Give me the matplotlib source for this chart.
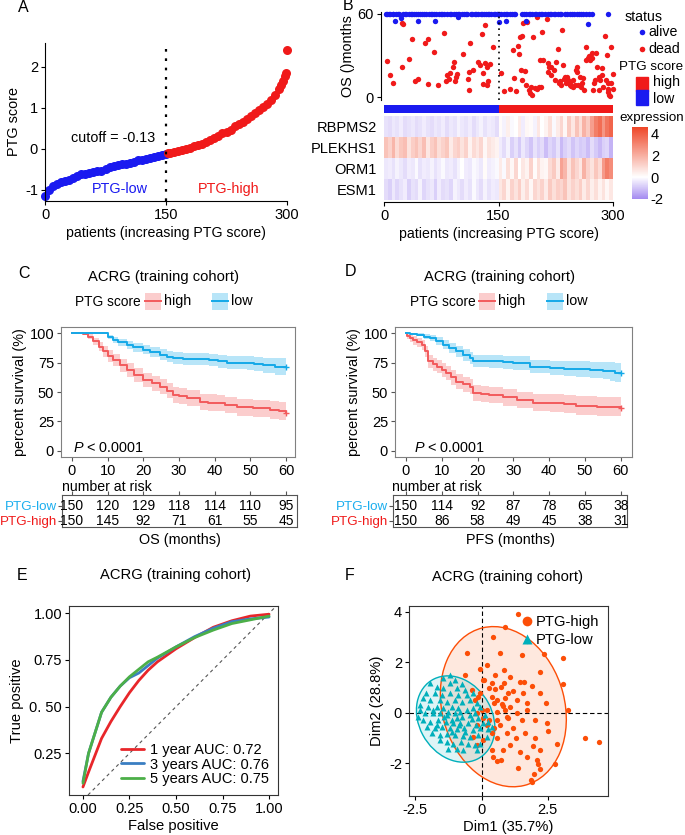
import numpy as np
import matplotlib
matplotlib.use('Agg')
import matplotlib.pyplot as plt
from matplotlib.patches import Ellipse, Rectangle
from matplotlib.lines import Line2D
from matplotlib.colors import LinearSegmentedColormap, ListedColormap, Normalize

plt.rcParams['font.family'] = ['Liberation Sans', 'DejaVu Sans']
plt.rcParams['font.size'] = 10
plt.rcParams['xtick.labelsize'] = 10.5
plt.rcParams['ytick.labelsize'] = 10.5
plt.rcParams['axes.unicode_minus'] = False
plt.rcParams['mathtext.fontset'] = 'custom'
plt.rcParams['mathtext.it'] = 'Liberation Sans:italic'
plt.rcParams['mathtext.rm'] = 'Liberation Sans'

# ---------------- data ----------------
# A: sorted PTG score
low_patient = [0, 5, 10, 15, 20, 25, 30, 35, 40, 45, 50, 55, 60, 65, 70, 75, 80, 85, 90, 95,
               100, 105, 110, 115, 120, 125, 130, 135, 140, 145, 150]
low_score = [-1.15, -1.0, -0.9, -0.85, -0.8, -0.78, -0.75, -0.7, -0.67, -0.62, -0.6, -0.58,
             -0.57, -0.55, -0.53, -0.5, -0.45, -0.42, -0.4, -0.38, -0.37, -0.35, -0.32,
             -0.28, -0.27, -0.25, -0.22, -0.2, -0.18, -0.16, -0.13]
high_patient = [152, 155, 160, 165, 170, 175, 180, 185, 190, 195, 200, 205, 210, 215, 220, 225,
                230, 235, 240, 245, 250, 255, 260, 265, 270, 275, 280, 285, 290, 293, 295,
                297, 299, 300]
high_score = [-0.1, -0.1, -0.08, -0.06, -0.03, 0.0, 0.03, 0.06, 0.1, 0.13, 0.17, 0.22, 0.27,
              0.32, 0.38, 0.42, 0.47, 0.55, 0.6, 0.65, 0.72, 0.8, 0.87, 0.95, 1.02, 1.1, 1.2,
              1.32, 1.45, 1.55, 1.65, 1.78, 1.85, 2.42]
cutoff = -0.13

# B: survival status (patient rank, OS months)
alive_patient = [1, 2, 5, 7, 10, 11, 14, 17, 19, 23, 26, 28, 31, 34, 35, 38, 41, 44, 46, 49,
                 51, 54, 58, 60, 62, 65, 67, 71, 73, 75, 78, 82, 85, 87, 91, 94, 96, 98, 101,
                 104, 106, 108, 113, 115, 118, 120, 123, 126, 127, 130, 133, 136, 137, 140,
                 143, 145, 147, 149, 150, 153, 156, 159, 161, 165, 167, 170, 171, 180, 183,
                 186, 189, 191, 194, 197, 199, 202, 205, 207, 210, 214, 217, 219, 222, 224,
                 227, 230, 232, 237, 240, 243, 246, 249, 252, 255, 258, 261, 264, 268, 272, 293]
followup_end = 60
alive_early = [(13, 55), (21, 57.3), (44, 55), (66, 55), (96, 57.5), (150, 54), (159, 55),
               (185, 55), (267, 52.8)]
dead = [(2, 26.4), (6, 15.8), (10, 10.1), (22, 53.3), (24, 52.8), (22, 22.1), (31, 27.8),
        (36, 41.8), (40, 12.0), (43, 13.0), (53, 39.4), (56, 41.8), (56, 9.6), (64, 32.9),
        (70, 8.9), (77, 46.6), (80, 12.0), (81, 16.1), (84, 13.0), (86, 17.3), (90, 22.1),
        (91, 25.7), (93, 14.9), (92, 12.0), (95, 16.8), (102, 31.2), (109, 13.4), (110, 5.3),
        (111, 18.5), (112, 39.4), (116, 19.7), (122, 25.4), (125, 23.3), (128, 45.6),
        (129, 17.8), (132, 51.8), (132, 24.5), (134, 22.1), (135, 12.0), (129, 9.6),
        (134, 8.9), (138, 24.0), (142, 36.5),
        (152, 17.8), (156, 4.8), (164, 5.8), (168, 34.1), (170, 13.7), (172, 4.8), (175, 37.0),
        (176, 31.2), (178, 43.2), (179, 19.7), (180, 12.5), (180, 44.2), (181, 53.3),
        (184, 19.2), (186, 8.9), (187, 54.5), (189, 5.3), (191, 2.9), (192, 7.7), (193, 1.7),
        (195, 43.2), (197, 6.5), (200, 57.6), (200, 5.8), (202, 7.2), (204, 26.9), (205, 7.7),
        (206, 47.3), (208, 26.9), (213, 56.2), (214, 24.5), (215, 18.5), (216, 21.6),
        (218, 22.1), (219, 16.1), (222, 19.7), (224, 12.5), (225, 25.7), (227, 34.6),
        (229, 10.1), (230, 12.0), (233, 48.5), (231, 8.9), (234, 23.3), (236, 13.0),
        (237, 14.9), (238, 10.1), (239, 14.9), (241, 12.5), (243, 8.9), (243, 11.3),
        (245, 8.2), (247, 12.5), (248, 7.2), (250, 8.9), (251, 19.7), (252, 22.1),
        (253, 18.5), (254, 8.9), (256, 14.4), (258, 7.7), (259, 10.6), (260, 13.7),
        (262, 5.3), (264, 36.5), (265, 26.9), (267, 28.1), (269, 29.8), (270, 26.9),
        (272, 31.7), (273, 28.1), (274, 5.3), (275, 10.1), (276, 12.5), (278, 31.7),
        (279, 22.1), (281, 5.3), (282, 14.4), (283, 12.5), (285, 20.9), (286, 16.1),
        (287, 7.7), (290, 44.2), (291, 12.5), (292, 30.5), (293, 5.8), (294, 4.1), (295, 1.7),
        (297, 36.0), (298, 10.1), (300, 16.8), (300, 5.8), (294, 10.6), (296, 1.0)]
n_low, n_high = 150, 150

genes = ['RBPMS2', 'PLEKHS1', 'ORM1', 'ESM1']
RBPMS2 = [-0.5, -0.6, -0.4, -0.5, -0.3, -0.6, -0.5, -0.4, -0.6, -0.5,
          -0.3, -0.5, -0.6, -0.4, -0.5, -0.3, -0.6, -0.4, -0.5, -0.2,
          -0.4, -0.5, -0.3, -0.6, -0.4, -0.2, -0.5, -0.3, -0.4, -0.6,
          0.1, -0.2, 0.4, -0.1, 0.0, 0.5, -0.3, 0.2, 0.1, -0.2,
          0.6, 0.0, 0.3, 0.8, -0.1, 0.5, 1.0, 0.2, 1.3, 0.6,
          1.5, 0.8, 1.9, 1.3, 2.4, 3.2, 3.6, 2.6, 3.4, 3.8]
PLEKHS1 = [1.5, 1.1, 1.8, 0.9, 1.4, 1.6, 0.7, 1.2, 1.5, 1.0,
           1.6, 0.6, 1.2, 1.5, 0.8, 1.1, 1.4, 0.5, 1.0, 1.2,
           0.7, 1.1, 0.3, 0.9, 0.6, 1.0, 0.2, 0.7, 0.5, 0.3,
           -0.3, -0.6, -0.2, -0.8, -0.5, -0.9, -0.4, -0.7, -1.0, -0.5,
           -0.8, -0.6, -1.1, -0.7, -0.9, -0.5, -1.2, -0.8, -0.6, -1.0,
           -0.7, -0.9, -0.8, -1.1, -0.6, -0.9, -1.2, -0.8, -0.7, -1.3]
ORM1 = [-0.4, -0.3, -0.5, -0.2, -0.4, -0.6, -0.3, -0.4, -0.1, -0.5,
        -0.3, -0.4, -0.2, -0.5, -0.3, -0.1, -0.4, -0.3, -0.5, -0.2,
        0.0, -0.3, -0.4, -0.1, -0.2, -0.4, 0.1, -0.3, -0.2, -0.1,
        0.5, -0.1, 0.8, 0.2, 1.0, 0.0, 0.6, 0.3, 1.1, 0.1,
        0.8, 0.3, 0.2, 0.9, 1.3, 0.5, 2.3, 1.8, 0.7, 1.5,
        1.0, 0.6, 1.9, 1.1, 0.7, 1.4, 0.9, 2.5, 3.2, 2.8]
ESM1 = [-0.6, -0.8, -0.4, -0.7, -0.5, -0.3, -0.8, -0.5, -0.6, -0.2,
        -0.7, -0.5, -0.4, -0.8, -0.3, -0.6, -0.5, -0.7, -0.2, -0.4,
        -0.6, -0.3, -0.5, -0.1, -0.4, -0.6, -0.2, -0.5, -0.3, -0.4,
        0.6, 1.0, 0.3, 1.1, 0.7, 1.2, 0.4, 0.9, 0.2, 1.0,
        0.7, 1.1, 0.5, 1.3, 0.8, 1.2, 1.0, 1.5, 0.7, 1.1,
        0.8, 1.2, 0.5, 1.0, 0.4, 0.8, 0.3, 0.7, 0.2, 0.6]

# C: OS Kaplan-Meier (month, survival %, half width of CI)
os_months_low = [0, 8.8, 10, 11.6, 13, 15.3, 17, 20, 22, 24.7, 26.5, 28.4, 31, 34, 38.3, 41,
                 43.4, 46, 49, 51, 53.6, 57, 60]
os_surv_low = [100, 100, 96.5, 94.3, 92, 90, 88, 85.8, 84, 81.6, 80, 78.7, 78.2, 77.9, 77.3,
               76, 75, 74.8, 74.4, 73.5, 72.5, 71.6, 71.6]
os_ci_low = [0, 0, 1.5, 2.5, 3, 3.5, 3.8, 4, 4.3, 4.6, 4.8, 5, 5, 5.1, 5.2, 5.3, 5.5, 5.7,
             5.9, 6.1, 6.4, 6.8, 7]
os_months_high = [0, 3.2, 4.5, 6, 7.5, 8.8, 10, 11.6, 13.5, 15.3, 17.5, 20, 22.5, 24.7, 26.5,
                  28.4, 30, 32.2, 35.9, 38, 40.6, 43, 46.2, 50.8, 55.5, 58, 60]
os_surv_high = [100, 99.4, 97, 92.9, 88.5, 84.4, 80.5, 77.3, 72.5, 68.8, 64.5, 60.3, 57.5,
                54.6, 51, 47.5, 46.5, 44.7, 41.9, 41, 40.5, 39, 37.1, 36.2, 34.8, 33.8, 32.5]
os_ci_high = [0, 1, 2, 3, 4, 4.5, 5, 5.3, 5.6, 5.8, 6, 6.2, 6.3, 6.4, 6.5, 6.6, 6.6, 6.7,
              6.8, 6.9, 7, 7, 7.1, 7.2, 7.3, 7.4, 7.5]

# D: PFS Kaplan-Meier
pfs_months_low = [0, 1, 3, 5, 6.7, 8.5, 10.4, 12, 14.1, 16, 17.9, 18.6, 23.3, 27, 30, 34.6,
                  40.2, 44, 47.6, 51.4, 55, 57, 58.4, 60]
pfs_surv_low = [100, 99.3, 98.6, 97, 95.7, 93, 90, 87, 84.4, 81.5, 78.7, 76.4, 75.9, 75.2,
                74.5, 71.6, 70.2, 69.8, 69.4, 68.8, 68.2, 67.4, 66.5, 66.5]
pfs_ci_low = [0, 0.8, 1.5, 2.2, 2.8, 3.3, 3.8, 4.2, 4.6, 4.9, 5.1, 5.2, 5.3, 5.4, 5.6, 5.8,
              6.1, 6.4, 6.7, 7, 7.4, 7.8, 8.2, 8.5]
pfs_months_high = [0, 0.2, 1, 2, 3.2, 4.4, 5.3, 6.2, 7.4, 8.6, 10, 11.3, 12.7, 14.1, 16, 17.9,
                   18.6, 21, 23.3, 27, 30.9, 35.5, 40.2, 44, 47.6, 53.2, 60]
pfs_surv_high = [100, 97.1, 95.5, 93.7, 92, 90, 84.4, 75.9, 73.5, 71.6, 68.5, 66, 62.5, 58.9,
                 56.5, 54.6, 49, 48.2, 47.5, 45.5, 43.3, 41, 40.5, 39.5, 38.3, 37.6, 36.2]
pfs_ci_high = [0, 2, 2.8, 3.5, 4, 4.5, 5, 5.5, 5.7, 5.9, 6, 6.2, 6.3, 6.4, 6.5, 6.6, 6.7,
               6.8, 6.9, 7, 7.1, 7.3, 7.5, 7.7, 7.9, 8.2, 8.5]

risk_times = [0, 10, 20, 30, 40, 50, 60]
os_risk_low = [150, 120, 129, 118, 114, 110, 95]
os_risk_high = [150, 145, 92, 71, 61, 55, 45]
pfs_risk_low = [150, 114, 92, 87, 78, 65, 38]
pfs_risk_high = [150, 86, 58, 49, 45, 38, 31]

# E: time-dependent ROC
fpr = [0, 0.03, 0.1, 0.15, 0.2, 0.25, 0.3, 0.35, 0.4, 0.5, 0.6, 0.7, 0.8, 0.9, 1.0]
tpr_1y = [0.07, 0.15, 0.33, 0.42, 0.5, 0.575, 0.64, 0.695, 0.74, 0.81, 0.87, 0.925, 0.96,
          0.985, 0.995]
tpr_3y = [0.1, 0.25, 0.47, 0.55, 0.61, 0.655, 0.68, 0.72, 0.76, 0.82, 0.875, 0.92, 0.955,
          0.97, 0.98]
tpr_5y = [0.09, 0.25, 0.47, 0.55, 0.61, 0.66, 0.70, 0.74, 0.765, 0.82, 0.87, 0.91, 0.945,
          0.965, 0.985]
roc_labels = ['1 year AUC: 0.72', '3 years AUC: 0.76', '5 years AUC: 0.75']

# F: PCA individuals (Dim1, Dim2)
pca_high = [(1.38, 3.92), (0.88, 3.41), (0.44, 2.99), (-0.54, 2.38), (0.69, 2.38), (1.70, 2.86),
            (2.35, 2.33), (3.06, 2.16), (1.51, 2.29), (0.19, 1.89), (-0.06, 1.72), (0.84, 1.69),
            (0.50, 1.50), (1.07, 1.43), (0.06, 1.30), (0.38, 1.16), (0.84, 1.19), (1.45, 1.23),
            (1.60, 1.20), (2.20, 1.63), (-0.63, 1.50), (-0.25, 0.50), (0.28, 0.97), (0.50, 0.93),
            (0.75, 1.01), (-0.06, 0.77), (0.38, 0.64), (0.57, 0.50), (0.98, 0.77), (1.19, 0.87),
            (1.55, 0.77), (1.92, 1.06), (2.43, 0.40), (3.06, 1.14), (3.25, 0.11), (0.47, 0.40),
            (0.79, 0.26), (0.88, 0.11), (0.77, 0.34), (0.19, 0.11), (-0.19, -0.03),
            (0.06, -0.19), (0.28, -0.29), (0.57, -0.29), (0.94, -0.16), (1.32, -0.03),
            (1.70, 0.11), (1.19, -0.62), (0.57, -1.02), (0.94, -0.82), (1.30, -1.02),
            (1.64, -0.82), (2.01, -1.02), (2.52, -0.71), (1.95, -1.31), (-0.19, -1.28),
            (0.38, -1.48), (0.42, -1.77), (0.57, -1.91), (0.75, -1.88), (1.38, -2.21),
            (1.70, -1.75), (2.08, -1.88), (2.14, -2.05), (2.20, -2.22), (1.97, -2.41),
            (1.85, -2.65), (1.92, -2.74), (2.77, -2.05), (3.90, -0.99), (4.43, -1.15),
            (2.83, -1.22), (0.19, -0.49), (0.69, -0.49), (1.01, -0.22), (-0.31, -0.95),
            (0.06, -1.08), (0.38, -0.82), (-0.38, 0.90), (-0.13, 0.64), (0.10, 1.30),
            (0.88, 0.57), (1.32, 0.50), (1.70, 0.37), (2.20, 0.77), (0.47, -0.62),
            (1.07, -1.28), (1.45, -1.55), (0.82, -1.48), (2.20, -1.48), (1.51, -0.29),
            (2.01, -0.29), (2.45, -0.42), (-0.19, -0.49), (0.0, 0.11), (1.07, 0.24),
            (0.57, 0.04)]
pca_low = [(-1.19, 1.49), (-1.45, 1.36), (-1.01, 1.30), (-1.19, 1.16), (-1.95, 1.16),
           (-1.70, 1.03), (-1.45, 0.97), (-0.94, 0.97), (-0.75, 1.14), (-0.63, 0.90),
           (-2.08, 0.77), (-1.76, 0.77), (-1.51, 0.70), (-1.19, 0.77), (-0.88, 0.70),
           (-0.57, 0.70), (-0.31, 0.77), (-2.20, 0.57), (-1.95, 0.50), (-1.57, 0.50),
           (-1.32, 0.44), (-1.01, 0.50), (-0.75, 0.44), (-0.44, 0.50), (-0.19, 0.40),
           (-2.33, 0.30), (-2.01, 0.24), (-1.70, 0.24), (-1.45, 0.17), (-1.13, 0.24),
           (-0.88, 0.17), (-0.57, 0.11), (-0.31, 0.17), (-0.06, 0.24), (-2.39, -0.16),
           (-2.14, -0.03), (-1.85, -0.03), (-1.57, -0.03), (-1.32, -0.09), (-1.01, -0.03),
           (-0.75, -0.16), (-0.44, -0.09), (-0.13, -0.19), (0.13, -0.09), (-2.20, -0.29),
           (-1.95, -0.36), (-1.64, -0.29), (-1.35, -0.36), (-1.07, -0.40), (-0.82, -0.42),
           (-0.50, -0.40), (-0.21, -0.49), (0.06, -0.42), (-2.05, -0.56), (-1.76, -0.62),
           (-1.51, -0.56), (-1.19, -0.62), (-0.94, -0.66), (-0.67, -0.62), (-0.34, -0.69),
           (-0.06, -0.62), (0.25, -0.66), (-1.89, -0.82), (-1.57, -0.89), (-1.30, -0.85),
           (-1.01, -0.89), (-0.72, -0.93), (-0.42, -0.95), (-0.13, -0.89), (0.19, -0.95),
           (-1.32, -1.15), (-1.07, -1.22), (-0.79, -1.15), (-0.50, -1.22), (-0.25, -1.28),
           (-0.94, -1.42), (-1.26, -1.42), (-0.69, -1.48), (-0.19, -1.48), (-1.57, -1.08),
           (-0.06, -1.22), (0.38, -0.56), (0.25, -0.36), (-1.13, -0.29), (-0.94, -0.22),
           (-1.42, -0.16), (-1.70, -0.49), (-0.63, -0.75), (-0.86, -0.49), (-1.11, -0.78),
           (-0.38, -0.26), (-1.82, 0.11), (-1.26, 0.04), (-0.82, 0.04), (-2.33, 0.11),
           (-0.25, -0.03)]
# concentration ellipses: centre, width, height, angle
high_ellipse = ((0.82, 0.24), 6.44, 4.63, 104)
low_ellipse = ((-0.98, -0.25), 3.57, 2.78, 117)

# ---------------- styles ----------------
BLUE = '#1A1AF0'
RED = '#F01A1A'
KM_RED = '#F25A5C'
KM_BLUE = '#14A9E8'
TXT_BLUE = '#1BAEEE'
ORANGE = '#FC4E07'
TEAL = '#00AFBB'
TITLE_SIZE = 10.6

W, H = 685, 835
fig = plt.figure(figsize=(W / 100, H / 100), dpi=100)


def box(l, t, r, b):
    return [l / W, 1 - b / H, (r - l) / W, (b - t) / H]


def ftext(x, y, s, **kw):
    kw.setdefault('va', 'center')
    fig.text(x / W, 1 - y / H, s, **kw)


def open_axes(ax):
    ax.spines['top'].set_visible(False)
    ax.spines['right'].set_visible(False)
    ax.tick_params(length=3, width=0.8, pad=2)


# ---------------- A ----------------
axA = fig.add_axes(box(45, 43, 287, 201))
axA.plot(low_patient, low_score, 'o', color=BLUE, ms=6.5, mec='none', clip_on=False)
axA.plot(high_patient, high_score, 'o', color=RED, ms=6.5, mec='none', clip_on=False)
axA.axvline(150, color='black', lw=1.6, ls=(0, (1.2, 3)))
axA.set_xlim(0, 300)
axA.set_ylim(-1.27, 2.58)
axA.set_xticks([0, 150, 300])
axA.set_yticks([-1, 0, 1, 2])
open_axes(axA)
axA.set_ylabel('PTG score', labelpad=3, fontsize=10.4)
axA.set_xlabel('patients (increasing PTG score)', labelpad=3, fontsize=10.2)
axA.text(137, 0.27, 'cutoff = %.2f' % cutoff, ha='right', va='center', fontsize=10.4)
axA.text(93, -0.98, 'PTG-low', color=BLUE, ha='center', va='center', fontsize=10.4)
axA.text(228, -0.98, 'PTG-high', color=RED, ha='center', va='center', fontsize=10.4)
ftext(23, 8, 'A', fontsize=11.5, ha='center')

# ---------------- B ----------------
dead_pat, dead_os = np.array(dead).T
early_pat, early_os = np.array(alive_early).T
axS = fig.add_axes(box(381, 12, 613, 99.5))
axS.scatter(dead_pat, dead_os, s=15, color=RED, lw=0, clip_on=False)
axS.scatter(alive_patient, np.full(len(alive_patient), followup_end), s=15, color=BLUE, lw=0,
            clip_on=False)
axS.scatter(early_pat, early_os, s=15, color=BLUE, lw=0)
axS.axvline(150, color='black', lw=1.2, ls=(0, (1, 2.5)))
axS.set_xlim(-5.3, 300)
axS.set_ylim(-1.6, 61.4)
axS.set_xticks([])
axS.set_yticks([0, 60])
for s in ('top', 'right', 'bottom'):
    axS.spines[s].set_visible(False)
axS.tick_params(length=3, width=0.8, pad=2)
axS.set_ylabel('OS ()months', labelpad=2, fontsize=10.4)
ftext(348, 6, 'B', fontsize=11.5, ha='center')

axG = fig.add_axes(box(384, 105, 613, 113.3))
group_code = np.array([0] * n_low + [1] * n_high)[None, :]
axG.pcolormesh(np.arange(n_low + n_high + 1), [0, 1], group_code,
               cmap=ListedColormap([BLUE, RED]))
axG.set_axis_off()

expr_cmap = LinearSegmentedColormap.from_list(
    'expr', [(0, '#A48AF0'), (2 / 6.6, '#FFFFFF'), (1, '#EE4526')])
expr_norm = Normalize(-2.0, 4.6)
axH = fig.add_axes(box(384, 116, 613, 200))
expr = np.array([RBPMS2, PLEKHS1, ORM1, ESM1])
col_edges = np.linspace(0, 300, expr.shape[1] + 1)
mesh = axH.pcolormesh(col_edges, np.arange(len(genes) + 1), expr, cmap=expr_cmap,
                      norm=expr_norm)
axH.set_xlim(0, 300)
axH.set_ylim(len(genes), 0)
axH.set_yticks(np.arange(len(genes)) + 0.5)
axH.set_yticklabels(genes)
axH.set_xticks([0, 150, 300])
for s in ('top', 'right', 'left'):
    axH.spines[s].set_visible(False)
axH.spines['bottom'].set_position(('outward', 1.5))
axH.tick_params(axis='y', length=0, pad=5)
axH.tick_params(axis='x', length=3, width=0.8, pad=2)
axH.set_xlabel('patients (increasing PTG score)', labelpad=3, fontsize=10.2)

# legends of B
ftext(625, 17, 'status', fontsize=10.2)
fig.add_artist(Line2D([641.7 / W], [1 - 32 / H], marker='o', ms=4, color=BLUE, mec='none',
                      transform=fig.transFigure))
fig.add_artist(Line2D([641.7 / W], [1 - 49 / H], marker='o', ms=4, color=RED, mec='none',
                      transform=fig.transFigure))
ftext(648, 32, 'alive', fontsize=10.2)
ftext(648, 49, 'dead', fontsize=10.2)
ftext(619, 67, 'PTG score', fontsize=9.6)
fig.add_artist(Rectangle((636 / W, 1 - 90.5 / H), 12 / W, 14 / H, color=RED,
                         transform=fig.transFigure))
fig.add_artist(Rectangle((636 / W, 1 - 105 / H), 12 / W, 14.5 / H, color=BLUE,
                         transform=fig.transFigure))
ftext(653, 82, 'high', fontsize=10.2)
ftext(653, 99, 'low', fontsize=10.2)
ftext(619, 118, 'expression', fontsize=9.6)
cax = fig.add_axes(box(632, 126.7, 648, 199))
cb = fig.colorbar(mesh, cax=cax, ticks=[-2, 0, 2, 4])
cb.outline.set_visible(False)
cax.tick_params(length=0, pad=2)

# ---------------- C / D ----------------


def km_panel(rect, tab_rect, xlim, tab_xlim, p_x, low, high, risk_low, risk_high, xlabel):
    ax = fig.add_axes(box(*rect))
    for months, surv, ci, col in (high + (KM_RED,), low + (KM_BLUE,)):
        m = np.asarray(months, float)
        s = np.asarray(surv, float)
        c = np.asarray(ci, float)
        ax.fill_between(m, np.clip(s - c, 0, 100), np.clip(s + c, 0, 100), step='post',
                        color=col, alpha=0.3, lw=0)
        ax.step(m, s, where='post', color=col, lw=1.4)
        ax.plot(m[-1], s[-1], '+', color=col, ms=4, mew=1)
    ax.set_xlim(*xlim)
    ax.set_ylim(-5.1, 105.1)
    ax.set_xticks(risk_times)
    ax.set_yticks([0, 25, 50, 75, 100])
    for s in ax.spines.values():
        s.set_color('#808080')
        s.set_linewidth(0.8)
    ax.tick_params(length=3, width=0.8, color='#555555', pad=2)
    ax.set_ylabel('percent survival (%)', labelpad=2, fontsize=10.4)
    ax.text(p_x, 2.5, '$P$ < 0.0001', ha='left', va='center', fontsize=10.4)

    tab = fig.add_axes(box(*tab_rect))
    tab.set_xlim(*tab_xlim)
    tab.set_ylim(1, 0)
    for t, nl, nh in zip(risk_times, risk_low, risk_high):
        tab.text(t, 0.34, str(nl), ha='center', va='center', fontsize=10)
        tab.text(t, 0.81, str(nh), ha='center', va='center', fontsize=10)
    tab.xaxis.tick_top()
    tab.set_xticks(risk_times)
    tab.set_xticklabels([])
    tab.set_yticks([0.34, 0.81])
    tab.set_yticklabels(['PTG-low', 'PTG-high'], fontsize=9.6)
    for lab, col in zip(tab.get_yticklabels(), (TXT_BLUE, RED)):
        lab.set_color(col)
    for s in tab.spines.values():
        s.set_color('#555555')
        s.set_linewidth(0.8)
    tab.tick_params(length=3, width=0.8, color='#555555', pad=0.5)
    tab.set_xlabel(xlabel, labelpad=4, fontsize=10.4)
    return ax, tab


def km_key(x, y, col, label):
    fig.add_artist(Rectangle((x / W, 1 - (y + 8.5) / H), 16 / W, 17 / H, color=col, alpha=0.3,
                             lw=0, transform=fig.transFigure))
    fig.add_artist(Line2D([x / W, (x + 16) / W], [1 - y / H, 1 - y / H], color=col, lw=1.4,
                          transform=fig.transFigure))
    ftext(x + 19, y, label, fontsize=10.4)


km_panel((61, 327, 295, 457), (62, 495, 297, 527), (-3.08, 62.5), (-2.8, 63.1), 0.2,
         (os_months_low, os_surv_low, os_ci_low), (os_months_high, os_surv_high, os_ci_high),
         os_risk_low, os_risk_high, 'OS (months)')
ftext(164, 277, 'ACRG (training cohort)', ha='center', fontsize=TITLE_SIZE)
ftext(75, 301.5, 'PTG score', fontsize=9.9)
km_key(145, 301, KM_RED, 'high')
km_key(212, 301, KM_BLUE, 'low')
ftext(62, 487, 'number at risk', fontsize=10.2)
ftext(24, 274, 'C', fontsize=11.5, ha='center')

km_panel((395, 327, 632, 457), (393, 495, 627, 527), (-3.07, 63.1), (-3.63, 61.7), 2.2,
         (pfs_months_low, pfs_surv_low, pfs_ci_low),
         (pfs_months_high, pfs_surv_high, pfs_ci_high),
         pfs_risk_low, pfs_risk_high, 'PFS (months)')
ftext(500, 277, 'ACRG (training cohort)', ha='center', fontsize=TITLE_SIZE)
ftext(410, 301.5, 'PTG score', fontsize=9.9)
km_key(479, 301, KM_RED, 'high')
km_key(547, 301, KM_BLUE, 'low')
ftext(392, 487, 'number at risk', fontsize=10.2)
ftext(350, 272, 'D', fontsize=11.5, ha='center')

# ---------------- E ----------------
axE = fig.add_axes(box(69, 606, 278, 795))
axE.axline((0, 0), (1, 1), color='#555555', lw=0.8, ls=(0, (3, 3)))
for tpr, col, lab in zip((tpr_1y, tpr_3y, tpr_5y), ('#E8262A', '#3A7EC2', '#4CAF48'),
                         roc_labels):
    axE.plot(fpr, tpr, color=col, lw=2, label=lab, solid_capstyle='round')
axE.set_xlim(-0.075, 1.048)
axE.set_ylim(0.027, 1.039)
axE.set_xticks([0, 0.25, 0.5, 0.75, 1.0])
axE.set_xticklabels(['0.00', '0.25', '0.50', '0.75', '1.00'])
axE.set_yticks([0.25, 0.5, 0.75, 1.0])
axE.set_yticklabels(['0.25', '0. 50', '0.75', '1.00'])
for s in axE.spines.values():
    s.set_linewidth(0.8)
    s.set_color('#333333')
axE.tick_params(length=3, width=0.8, pad=2)
axE.set_xlabel('False positive', labelpad=2, fontsize=10.6)
axE.set_ylabel('True positive', labelpad=4, fontsize=10.6)
axE.legend(loc='lower right', frameon=False, handlelength=1.6, handletextpad=0.4,
           labelspacing=0.05, borderaxespad=0.2, fontsize=10.5)
ftext(175, 575, 'ACRG (training cohort)', ha='center', fontsize=TITLE_SIZE)
ftext(22, 575, 'E', fontsize=11.5, ha='center')

# ---------------- F ----------------
high_d1, high_d2 = np.array(pca_high).T
low_d1, low_d2 = np.array(pca_low).T
axF = fig.add_axes(box(409, 606, 608, 796))
for (c, w, h, ang), col in ((high_ellipse, ORANGE), (low_ellipse, TEAL)):
    axF.add_patch(Ellipse(c, w, h, angle=ang, facecolor=col, alpha=0.13, lw=0, zorder=1))
    axF.add_patch(Ellipse(c, w, h, angle=ang, facecolor='none', edgecolor=col, lw=1,
                          zorder=2))
axF.axhline(0, color='black', lw=0.8, ls=(0, (4, 2.5)), zorder=1.5)
axF.axvline(0, color='black', lw=0.8, ls=(0, (4, 2.5)), zorder=1.5)
axF.plot(high_d1, high_d2, 'o', color=ORANGE, ms=3.8, mec='none', zorder=3)
axF.plot(low_d1, low_d2, '^', color=TEAL, ms=4.2, mec='none', zorder=3)
axF.set_xlim(-2.74, 4.77)
axF.set_ylim(-3.3, 4.23)
axF.set_xticks([-2.5, 0, 2.5])
axF.set_xticklabels(['-2.5', '0', '2.5'])
axF.set_yticks([-2, 0, 2, 4])
for s in axF.spines.values():
    s.set_linewidth(0.8)
    s.set_color('#333333')
axF.tick_params(length=3, width=0.8, pad=2)
axF.set_xlabel('Dim1 (35.7%)', labelpad=2, fontsize=10.6)
axF.set_ylabel('Dim2 (28.8%)', labelpad=4, fontsize=10.6)
handles = [Line2D([], [], ls='none', marker='o', color=ORANGE, ms=7, mec='none'),
           Line2D([], [], ls='none', marker='^', color=TEAL, ms=7, mec='none')]
axF.legend(handles, ['PTG-high', 'PTG-low'], loc='upper right', frameon=False,
           handlelength=0.8, handletextpad=0.2, labelspacing=0.3, borderaxespad=0.2,
           fontsize=10.6)
ftext(507, 577, 'ACRG (training cohort)', ha='center', fontsize=TITLE_SIZE)
ftext(350, 575, 'F', fontsize=11.5, ha='center')

fig.savefig('out.png', dpi=100, facecolor='white')
